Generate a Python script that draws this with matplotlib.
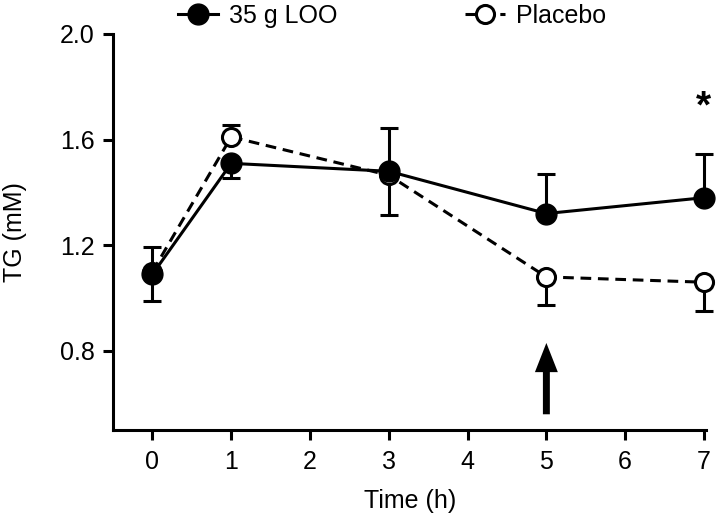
import matplotlib.pyplot as plt
from matplotlib.lines import Line2D

plt.rcParams['font.family'] = ['Liberation Sans', 'DejaVu Sans']

time_h = [0, 1, 3, 5, 7]

loo_tg = [1.09, 1.51, 1.48, 1.32, 1.38]
loo_err_up = [0.105, 0.0, 0.165, 0.15, 0.165]
loo_err_lo = [0.0, 0.055, 0.0, 0.0, 0.0]

placebo_tg = [1.10, 1.61, 1.465, 1.08, 1.06]
placebo_err_up = [0.0, 0.045, 0.0, 0.0, 0.0]
placebo_err_lo = [0.11, 0.0, 0.15, 0.105, 0.11]

xticks = [0, 1, 2, 3, 4, 5, 6, 7]
yticks = [0.8, 1.2, 1.6, 2.0]

FS = 18
LW = 2.2

fig = plt.figure(figsize=(7.2, 5.22), dpi=100)
ax = fig.add_axes([0.157, 0.176, 0.824, 0.759])

# placebo first so filled markers sit on top
pl = ax.errorbar(time_h, placebo_tg, yerr=[placebo_err_lo, placebo_err_up],
                 color='black', ls='--', lw=LW, marker='o', ms=13,
                 mfc='white', mec='black', mew=LW, capsize=6.5, capthick=LW,
                 elinewidth=LW, dashes=(3.5, 2.2), zorder=3)
lo = ax.errorbar(time_h, loo_tg, yerr=[loo_err_lo, loo_err_up],
                 color='black', ls='-', lw=LW, marker='o', ms=15,
                 mfc='black', mec='black', capsize=6.5, capthick=LW,
                 elinewidth=LW, zorder=4)
for cont in (pl, lo):
    for art in cont.get_children():
        art.set_clip_on(False)

ax.set_xlim(-0.5, 7.03)
ax.set_ylim(0.5, 2.0)
ax.set_xticks(xticks)
ax.set_yticks(yticks)
ax.set_yticklabels(['0.8', '1.2', '1.6', '2.0'])
ax.tick_params(labelsize=FS, width=LW, length=7, direction='out')
ax.tick_params(axis='x', pad=7)
ax.tick_params(axis='y', pad=6)

for side in ['top', 'right']:
    ax.spines[side].set_visible(False)
for side in ['left', 'bottom']:
    ax.spines[side].set_linewidth(LW)

ax.set_xlabel('Time (h)', fontsize=FS, labelpad=11)
ax.set_ylabel('TG (mM)', fontsize=FS, labelpad=24)

# significance mark and arrow
ax.text(7, 1.72, '*', ha='center', va='center', fontsize=28, fontweight='bold')
ax.annotate('', xy=(5, 0.83), xytext=(5, 0.56),
            arrowprops=dict(width=5, headwidth=16.5, headlength=21,
                            facecolor='black', edgecolor='black', lw=0))

handles = [
    Line2D([], [], color='black', ls='-', lw=LW, marker='o', ms=15,
           mfc='black', mec='black'),
    Line2D([], [], color='black', ls='--', lw=LW, marker='o', ms=13,
           mfc='white', mec='black', mew=LW, dashes=(3.5, 2.2)),
]
fig.legend(handles, ['35 g LOO', 'Placebo'], loc='upper left',
           bbox_to_anchor=(0.247, 0.992), ncol=2, frameon=False, fontsize=FS,
           handlelength=1.6, handletextpad=0.45, columnspacing=5.1,
           borderpad=0, borderaxespad=0)

fig.savefig('out.png', dpi=100)
